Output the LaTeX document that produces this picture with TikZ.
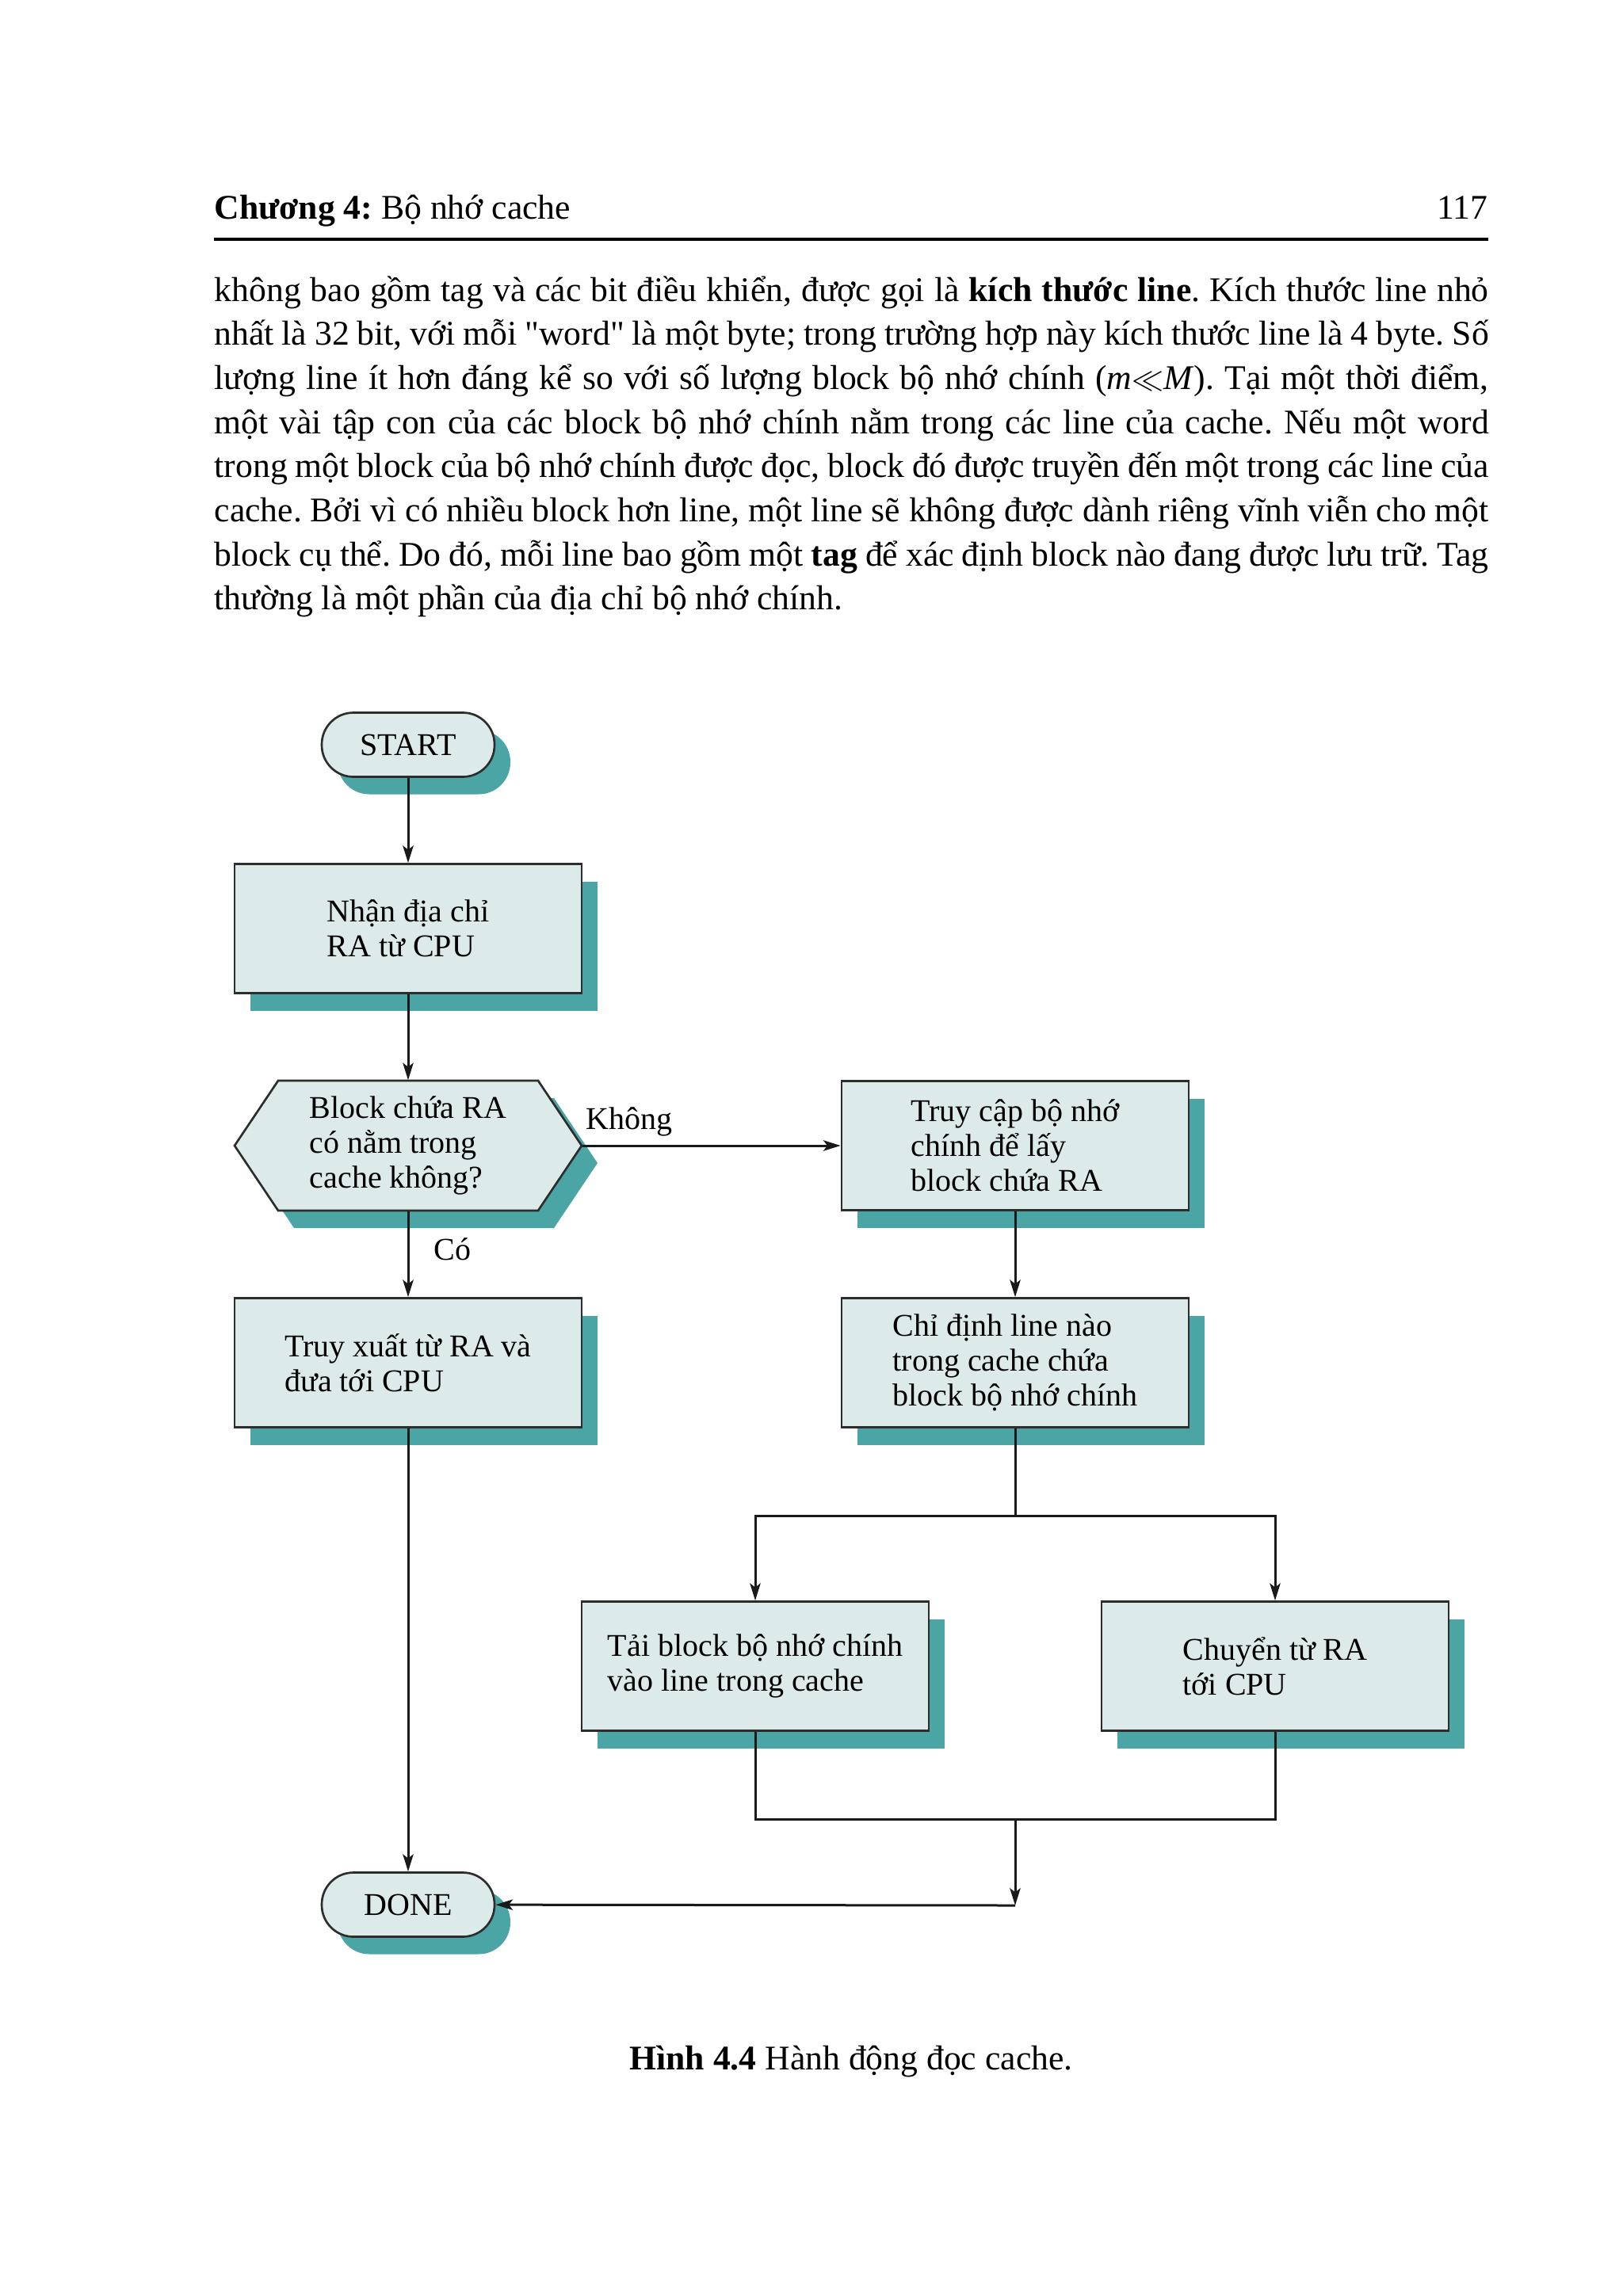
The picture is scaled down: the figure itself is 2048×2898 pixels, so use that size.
\documentclass[tikz,border=0pt]{standalone}
\usepackage{fontspec}
\setmainfont{Liberation Serif}
\usetikzlibrary{arrows.meta,shadows,calc}
\definecolor{boxfill}{RGB}{220,235,233}
\definecolor{tealshadow}{RGB}{74,165,164}
\definecolor{edgec}{RGB}{45,45,45}
\newcommand\bodyline[1]{\makebox[482.4pt][s]{#1}}
\frenchspacing

\begin{document}
\begin{tikzpicture}[x=0.3pt,y=-0.3pt,
  flow/.style={draw=edgec,line width=0.8pt,fill=boxfill,
    drop shadow={shadow xshift=6pt,shadow yshift=-6.6pt,fill=tealshadow,opacity=1},
    font=\fontsize{12}{13.2}\selectfont,align=left,inner sep=0pt},
  stepbox/.style={flow,rectangle,minimum width=131.4pt,minimum height=48.9pt},
  term/.style={flow,rectangle,rounded corners=12pt,minimum width=65.4pt,minimum height=24.3pt},
  conn/.style={draw=black!90,line width=0.9pt},
  arr/.style={conn,-{Stealth[length=6.5pt,width=4pt,inset=1.5pt]}},
  lbl/.style={font=\fontsize{12}{13.2}\selectfont,anchor=west,inner sep=0pt},
  body/.style={font=\fontsize{13.1}{16.7}\selectfont,anchor=base west,inner sep=0pt}
]
\useasboundingbox (0,0) rectangle (2048,2898);

% running head
\node[body] (hdr) at (270,277) {\textbf{Chương 4:} Bộ nhớ cache};
\node[body,anchor=base east] (pg) at (1878,277) {117};
\draw[line width=1.2pt] (270,302) -- (1878,302);

% body text, one justified line each
\node[body] (p1) at (270,380) {\bodyline{không bao gồm tag và các bit điều khiển, được gọi là \textbf{kích thước line}. Kích thước line nhỏ}};
\node[body] (p2) at (270,435.7) {\bodyline{nhất là 32 bit, với mỗi \textquotedbl word\textquotedbl{} là một byte; trong trường hợp này kích thước line là 4 byte. Số}};
\node[body] (p3) at (270,491.4) {\bodyline{lượng line ít hơn đáng kể so với số lượng block bộ nhớ chính (\textit{m}$\ll$\textit{M}). Tại một thời điểm,}};
\node[body] (p4) at (270,547.1) {\bodyline{một vài tập con của các block bộ nhớ chính nằm trong các line của cache. Nếu một word}};
\node[body] (p5) at (270,602.8) {\bodyline{trong một block của bộ nhớ chính được đọc, block đó được truyền đến một trong các line của}};
\node[body] (p6) at (270,658.5) {\bodyline{cache. Bởi vì có nhiều block hơn line, một line sẽ không được dành riêng vĩnh viễn cho một}};
\node[body] (p7) at (270,714.2) {\bodyline{block cụ thể. Do đó, mỗi line bao gồm một \textbf{tag} để xác định block nào đang được lưu trữ. Tag}};
\node[body] (p8) at (270,769.9) {thường là một phần của địa chỉ bộ nhớ chính.};

% flowchart
\node[term] (start) at (515,940) {START};
\node[stepbox] (recv) at (515,1172) {Nhận địa chỉ\\RA từ CPU};

\coordinate (hc) at (515,1446);
\fill[tealshadow] ([shift={(20,22)}]hc) ++(-219,0) -- ++(55,-82) -- ++(328,0) -- ++(55,82) -- ++(-55,82) -- ++(-328,0) -- cycle;
\filldraw[fill=boxfill,draw=edgec,line width=0.8pt] (hc) ++(-219,0) -- ++(55,-82) -- ++(328,0) -- ++(55,82) -- ++(-55,82) -- ++(-328,0) -- cycle;
\node[font=\fontsize{12}{13.2}\selectfont,align=left,inner sep=0pt,minimum width=131.4pt,minimum height=49.2pt] (hit) at (hc) {Block chứa RA\\có nằm trong\\cache không?};

\node[stepbox] (fetch) at (1281,1446) {Truy cập bộ nhớ\\chính để lấy\\block chứa RA};
\node[stepbox] (pick) at (1281,1720) {Chỉ định line nào\\trong cache chứa\\block bộ nhớ chính};
\node[stepbox] (deliver) at (515,1720) {Truy xuất từ RA và\\đưa tới CPU};
\node[stepbox] (load) at (953,2103) {Tải block bộ nhớ chính\\vào line trong cache};
\node[stepbox] (send) at (1609,2103) {Chuyển từ RA\\tới CPU};
\node[term] (done) at (515,2404) {DONE};

\node[lbl] (no) at (739,1416) {Không};
\node[lbl] (yes) at (547,1577) {Có};

\coordinate (split) at (1281,1913);
\coordinate (merge) at (1281,2296);
\coordinate (turn) at (1281,2405);

\draw[arr] (start) -- (recv);
\draw[arr] (recv) -- (hit);
\draw[arr] (hit) -- (fetch);
\draw[arr] (hit) -- (deliver);
\draw[arr] (fetch) -- (pick);
\draw[conn] (pick) -- (split);
\draw[arr] (split) -| (load);
\draw[arr] (split) -| (send);
\draw[conn] (load) |- (merge);
\draw[conn] (send) |- (merge);
\draw[arr] (merge) -- (turn);
\draw[arr] (turn) -- (done);
\draw[arr] (deliver) -- (done);

% caption
\node[body,anchor=base] (cap) at (1074,2612) {\textbf{Hình 4.4} Hành động đọc cache.};
\end{tikzpicture}
\end{document}
